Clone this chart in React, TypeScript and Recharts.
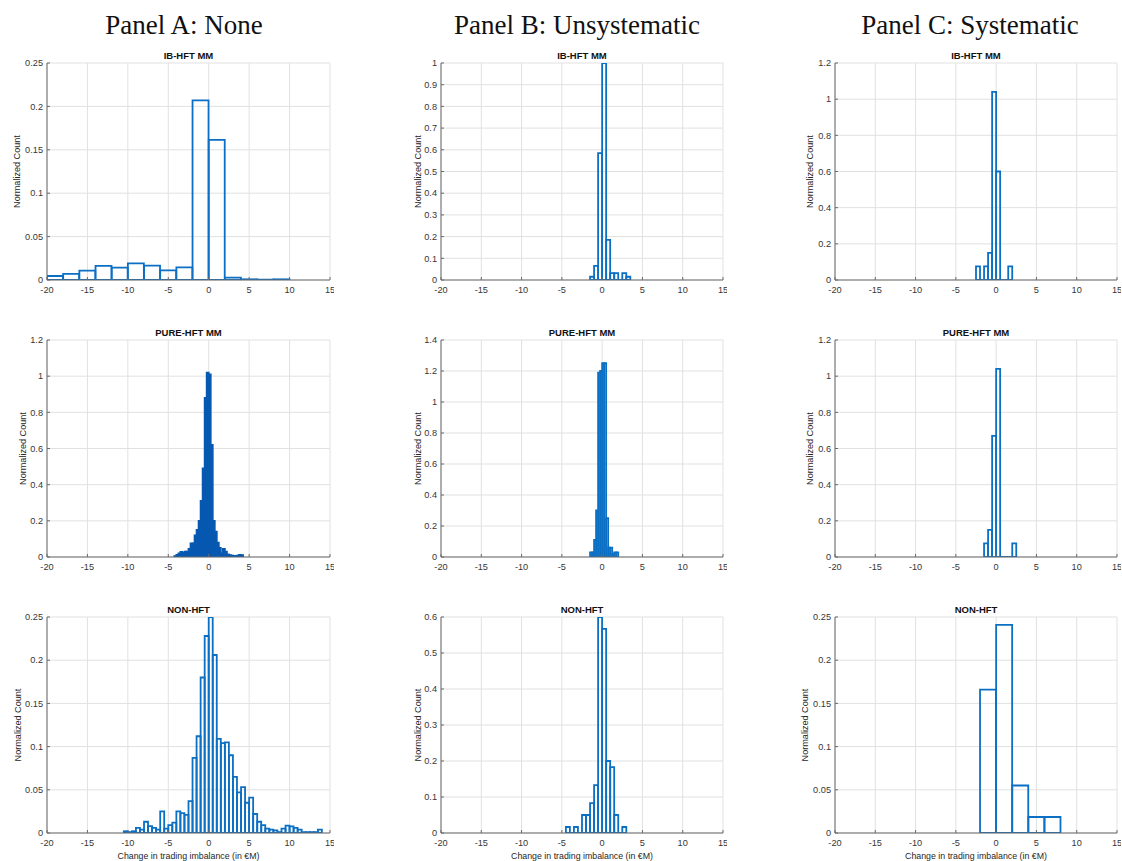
import React from 'react';
import { ComposedChart, Bar, XAxis, YAxis, CartesianGrid } from 'recharts';

// ---------- shared tick labels ----------
const xTicks = [-20, -15, -10, -5, 0, 5, 10, 15];
const yTicks025 = [0, 0.05, 0.1, 0.15, 0.2, 0.25];
const yTicks1 = [0, 0.1, 0.2, 0.3, 0.4, 0.5, 0.6, 0.7, 0.8, 0.9, 1];
const yTicks12 = [0, 0.2, 0.4, 0.6, 0.8, 1, 1.2];
const yTicks14 = [0, 0.2, 0.4, 0.6, 0.8, 1, 1.2, 1.4];
const yTicks06 = [0, 0.1, 0.2, 0.3, 0.4, 0.5, 0.6];

const panelTitles = ['Panel A: None', 'Panel B: Unsystematic', 'Panel C: Systematic'];
const rowTitles = ['IB-HFT MM', 'PURE-HFT MM', 'NON-HFT'];
const yLabel = 'Normalized Count';
const xLabel = 'Change in trading imbalance (in €M)';

// ---------- Panel A: None ----------
const aIbCenters = [-19, -17, -15, -13, -11, -9, -7, -5, -3, -1, 1, 3, 5, 7, 9];
const aIbValues = [0.0046, 0.007, 0.0108, 0.0162, 0.0142, 0.0192, 0.0165, 0.0112, 0.0146, 0.207, 0.1615, 0.0027, 0.0008, 0.0004, 0.0008];

const aPureCenters = [-4.125, -3.875, -3.625, -3.375, -3.125, -2.875, -2.625, -2.375, -2.125, -1.875, -1.625, -1.375, -1.125, -0.875, -0.625, -0.375, -0.125, 0.125, 0.375, 0.625, 0.875, 1.125, 1.375, 1.625, 1.875, 2.125, 2.375, 2.625, 2.875, 3.125, 3.375, 3.625, 3.875, 4.125];
const aPureValues = [0.005, 0.012, 0.02, 0.028, 0.022, 0.03, 0.03, 0.045, 0.075, 0.075, 0.12, 0.15, 0.2, 0.31, 0.49, 0.88, 1.02, 1.01, 0.62, 0.2, 0.14, 0.08, 0.05, 0.02, 0.045, 0.03, 0.015, 0.01, 0.008, 0.006, 0.005, 0.008, 0.012, 0.01];

const aNonCenters = [-10.25, -9.75, -9.25, -8.75, -8.25, -7.75, -7.25, -6.75, -6.25, -5.75, -5.25, -4.75, -4.25, -3.75, -3.25, -2.75, -2.25, -1.75, -1.25, -0.75, -0.25, 0.25, 0.75, 1.25, 1.75, 2.25, 2.75, 3.25, 3.75, 4.25, 4.75, 5.25, 5.75, 6.25, 6.75, 7.25, 7.75, 8.25, 8.75, 9.25, 9.75, 10.25, 10.75, 11.25, 11.75, 12.25, 12.75, 13.25, 13.75];
const aNonValues = [0.002, 0.001, 0.002, 0.006, 0.004, 0.013, 0.008, 0.006, 0.004, 0.025, 0.005, 0.009, 0.012, 0.025, 0.023, 0.021, 0.037, 0.087, 0.112, 0.18, 0.228, 0.25, 0.206, 0.109, 0.104, 0.105, 0.09, 0.065, 0.047, 0.053, 0.035, 0.041, 0.022, 0.013, 0.009, 0.005, 0.004, 0.003, 0.001, 0.005, 0.0085, 0.0077, 0.006, 0.004, 0.001, 0.001, 0.001, 0.001, 0.004];

// ---------- Panel B: Unsystematic ----------
const bIbCenters = [-1.25, -0.75, -0.25, 0.25, 0.75, 1.25, 1.75, 2.25, 2.75, 3.25];
const bIbValues = [0.015, 0.065, 0.585, 1.0, 0.185, 0.032, 0.032, 0, 0.032, 0.015];

const bPureCenters = [-1.375, -1.125, -0.875, -0.625, -0.375, -0.125, 0.125, 0.375, 0.625, 0.875, 1.125, 1.375, 1.625, 1.875];
const bPureValues = [0.03, 0.03, 0.11, 0.3, 1.19, 1.2, 1.25, 1.25, 0.25, 0.06, 0.06, 0.02, 0.03, 0.03];

const bNonCenters = [-4.25, -3.75, -3.25, -2.75, -2.25, -1.75, -1.25, -0.75, -0.25, 0.25, 0.75, 1.25, 1.75, 2.25, 2.75];
const bNonValues = [0.0167, 0, 0.0167, 0, 0.05, 0.05, 0.083, 0.133, 0.6, 0.567, 0.2, 0.183, 0.05, 0, 0.0167];

// ---------- Panel C: Systematic ----------
const cIbCenters = [-2.25, -1.75, -1.25, -0.75, -0.25, 0.25, 0.75, 1.25, 1.75];
const cIbValues = [0.075, 0, 0.075, 0.15, 1.04, 0.6, 0, 0, 0.075];

const cPureCenters = [-1.25, -0.75, -0.25, 0.25, 0.75, 1.25, 1.75, 2.25];
const cPureValues = [0.075, 0.15, 0.67, 1.04, 0, 0, 0, 0.075];

const cNonCenters = [-1, 1, 3, 5, 7];
const cNonValues = [0.166, 0.241, 0.055, 0.0185, 0.0185];

// ---------- styling ----------
const BLUE = '#0b6fc4';
const SOLID = '#0758b0';
const FONT = '"Liberation Sans", Arial, Helvetica, sans-serif';
const AXIS = '#6a6a6a';
const TICKTXT = '#363636';

type HistProps = {
  left: number;
  top: number;
  plotW: number;
  plotH: number;
  centers: number[];
  values: number[];
  yMax: number;
  yTicks: number[];
  title: string;
  showXLabel?: boolean;
  labelDx: number;
  solid?: boolean;
};

function Hist({ left, top, plotW, plotH, centers, values, yMax, yTicks, title, showXLabel, labelDx, solid }: HistProps) {
  const data = centers.map((c, i) => ({ x: c, y: values[i] }));
  const mTop = 20;
  const yW = 47;
  const xH = 28;
  const mRight = 4;
  const width = yW + plotW + mRight;
  const height = mTop + plotH + xH;
  const color = solid ? SOLID : BLUE;
  const shape = (p: any) => {
    const { x, y, width: w, height: h } = p;
    if ([x, y, w, h].some((v) => typeof v !== 'number' || isNaN(v))) return <g />;
    return (
      <path
        d={`M${x},${y + h}V${y}H${x + w}V${y + h}Z`}
        fill={solid ? color : 'none'}
        stroke={color}
        strokeWidth={1.8}
      />
    );
  };
  return (
    <>
      <div
        style={{
          position: 'absolute',
          left: left,
          width: plotW,
          top: top - 12,
          textAlign: 'center',
          fontFamily: FONT,
          fontWeight: 'bold',
          fontSize: 9.5,
          lineHeight: '10px',
          color: '#111',
          whiteSpace: 'nowrap',
        }}
      >
        {title}
      </div>
      <div style={{ position: 'absolute', left: left - yW, top: top - mTop }}>
        <ComposedChart
          width={width}
          height={height}
          data={data}
          margin={{ top: mTop, right: mRight, bottom: 0, left: 0 }}
          barCategoryGap={0}
          barGap={0}
        >
          <CartesianGrid stroke="#e1e1e1" strokeWidth={1} />
          <XAxis
            dataKey="x"
            type="number"
            domain={[-20, 15]}
            ticks={xTicks}
            allowDataOverflow
            interval={0}
            height={xH}
            tickSize={-3}
            tickMargin={9}
            stroke={AXIS}
            tick={{ fill: TICKTXT, fontSize: 9.2, fontFamily: FONT }}
            label={
              showXLabel
                ? { value: xLabel, position: 'insideBottom', offset: 2.5, fill: '#262626', fontSize: 8.8, fontFamily: FONT }
                : undefined
            }
          />
          <XAxis
            xAxisId="top"
            orientation="top"
            type="number"
            domain={[-20, 15]}
            ticks={xTicks}
            allowDataOverflow
            height={0}
            tick={false}
            tickSize={-3}
            stroke={AXIS}
          />
          <YAxis
            type="number"
            domain={[0, yMax]}
            ticks={yTicks}
            allowDataOverflow
            interval={0}
            width={yW}
            tickSize={-3}
            tickMargin={7}
            stroke={AXIS}
            tick={{ fill: TICKTXT, fontSize: 9.2, fontFamily: FONT }}
            label={{ value: yLabel, angle: -90, position: 'center', dx: labelDx, fill: '#262626', fontSize: 9.1, fontFamily: FONT }}
          />
          <YAxis
            yAxisId="right"
            orientation="right"
            type="number"
            domain={[0, yMax]}
            ticks={yTicks}
            allowDataOverflow
            width={0}
            tick={false}
            tickSize={-3}
            stroke={AXIS}
          />
          <Bar dataKey="y" isAnimationActive={false} shape={shape} />
        </ComposedChart>
      </div>
    </>
  );
}

const colLeft = [47, 441, 835];
const colW = [283, 282, 282];
const rowTop = [63, 340, 617];
const rowH = [217, 217, 216];
const headingCenters = [184, 577, 970];

export default function App() {
  return (
    <div style={{ position: 'absolute', left: 0, top: 0, width: 1122, height: 861, background: '#fff', overflow: 'hidden' }}>
      {panelTitles.map((t, i) => (
        <div
          key={t}
          style={{
            position: 'absolute',
            left: headingCenters[i] - 200,
            width: 400,
            top: 12,
            textAlign: 'center',
            fontFamily: '"Liberation Serif", "Times New Roman", serif',
            fontSize: 27,
            lineHeight: '27px',
            color: '#111',
            whiteSpace: 'nowrap',
          }}
        >
          {t}
        </div>
      ))}

      {/* Panel A */}
      <Hist left={colLeft[0]} top={rowTop[0]} plotW={colW[0]} plotH={rowH[0]} centers={aIbCenters} values={aIbValues} yMax={0.25} yTicks={yTicks025} title={rowTitles[0]} labelDx={-6.5} />
      <Hist left={colLeft[0]} top={rowTop[1]} plotW={colW[0]} plotH={rowH[1]} centers={aPureCenters} values={aPureValues} yMax={1.2} yTicks={yTicks12} title={rowTitles[1]} labelDx={-0.5} solid />
      <Hist left={colLeft[0]} top={rowTop[2]} plotW={colW[0]} plotH={rowH[2]} centers={aNonCenters} values={aNonValues} yMax={0.25} yTicks={yTicks025} title={rowTitles[2]} labelDx={-5.5} showXLabel />

      {/* Panel B */}
      <Hist left={colLeft[1]} top={rowTop[0]} plotW={colW[1]} plotH={rowH[0]} centers={bIbCenters} values={bIbValues} yMax={1} yTicks={yTicks1} title={rowTitles[0]} labelDx={0} />
      <Hist left={colLeft[1]} top={rowTop[1]} plotW={colW[1]} plotH={rowH[1]} centers={bPureCenters} values={bPureValues} yMax={1.4} yTicks={yTicks14} title={rowTitles[1]} labelDx={0} />
      <Hist left={colLeft[1]} top={rowTop[2]} plotW={colW[1]} plotH={rowH[2]} centers={bNonCenters} values={bNonValues} yMax={0.6} yTicks={yTicks06} title={rowTitles[2]} labelDx={0} showXLabel />

      {/* Panel C */}
      <Hist left={colLeft[2]} top={rowTop[0]} plotW={colW[2]} plotH={rowH[0]} centers={cIbCenters} values={cIbValues} yMax={1.2} yTicks={yTicks12} title={rowTitles[0]} labelDx={-1.5} />
      <Hist left={colLeft[2]} top={rowTop[1]} plotW={colW[2]} plotH={rowH[1]} centers={cPureCenters} values={cPureValues} yMax={1.2} yTicks={yTicks12} title={rowTitles[1]} labelDx={-1.5} />
      <Hist left={colLeft[2]} top={rowTop[2]} plotW={colW[2]} plotH={rowH[2]} centers={cNonCenters} values={cNonValues} yMax={0.25} yTicks={yTicks025} title={rowTitles[2]} labelDx={-6.5} showXLabel />
    </div>
  );
}
